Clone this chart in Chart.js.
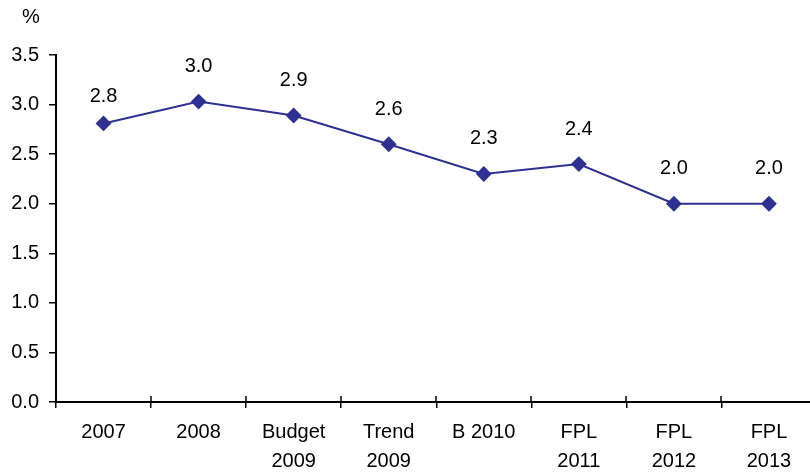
<!DOCTYPE html>
<html>
<head>
  <meta charset="UTF-8">
  <title>Deficit path</title>
  <script src="https://cdn.jsdelivr.net/npm/chart.js"></script>
  <style>
    html, body { margin: 0; padding: 0; background: #fff; overflow: hidden; }
    .wrap { position: relative; width: 825px; height: 472px; }
    .unit { position: absolute; left: 22px; top: 5px; font: 20px "Liberation Sans", Arial, sans-serif; color: #000; }
  </style>
</head>
<body>
  <div class="wrap">
    <div class="unit">%</div>
    <canvas id="chart" width="825" height="472"></canvas>
  </div>

  <script>
    const categories = ["2007", "2008", ["Budget", "2009"], ["Trend", "2009"], "B 2010", ["FPL", "2011"], ["FPL", "2012"], ["FPL", "2013"]];
    const values = [2.81, 3.03, 2.89, 2.6, 2.3, 2.4, 2.0, 2.0];
    const yTicks = [0, 0.5, 1.0, 1.5, 2.0, 2.5, 3.0, 3.5];

    const FONT = '"Liberation Sans", Arial, sans-serif';
    const lineColor = "#2E3192";

    // value labels above each diamond, plus the inner half of the x tick marks
    const extras = {
      id: "extras",
      afterDatasetsDraw(chart) {
        const ctx = chart.ctx;
        const meta = chart.getDatasetMeta(0);
        ctx.save();
        ctx.font = "20px " + FONT;
        ctx.fillStyle = "#000";
        ctx.textAlign = "center";
        ctx.textBaseline = "middle";
        meta.data.forEach((pt, i) => {
          const lift = i === 0 ? 27 : 35;
          ctx.fillText(values[i].toFixed(1), pt.x, pt.y - lift);
        });

        const x = chart.scales.x;
        const y0 = chart.scales.y.getPixelForValue(0);
        ctx.strokeStyle = "#000";
        ctx.lineWidth = 1.5;
        ctx.beginPath();
        for (let i = 1; i < categories.length; i++) {
          const px = Math.round((x.getPixelForValue(i - 1) + x.getPixelForValue(i)) / 2);
          ctx.moveTo(px, y0);
          ctx.lineTo(px, y0 - 6);
        }
        ctx.stroke();
        ctx.restore();
      }
    };

    new Chart(document.getElementById("chart").getContext("2d"), {
      type: "line",
      data: {
        labels: categories,
        datasets: [{
          data: values,
          borderColor: lineColor,
          backgroundColor: lineColor,
          borderWidth: 2,
          pointStyle: "rectRot",
          pointRadius: 6.5,
          pointBackgroundColor: lineColor,
          pointBorderColor: lineColor,
          tension: 0
        }]
      },
      options: {
        responsive: false,
        animation: false,
        layout: { padding: { top: 55, right: 0, left: 0, bottom: 0 } },
        plugins: {
          legend: { display: false },
          tooltip: { enabled: false }
        },
        scales: {
          x: {
            offset: true,
            grid: {
              offset: true,
              drawOnChartArea: false,
              drawTicks: true,
              tickLength: 6,
              color: "#000",
              lineWidth: 1.5
            },
            border: { color: "#000", width: 2 },
            ticks: {
              color: "#000",
              font: { family: FONT, size: 20, lineHeight: 1.45 },
              padding: 10,
              maxRotation: 0,
              autoSkip: false
            },
            afterFit(scale) { scale.height = 70; }
          },
          y: {
            min: 0,
            max: 3.5,
            afterBuildTicks(scale) { scale.ticks = yTicks.map(v => ({ value: v })); },
            grid: {
              drawOnChartArea: false,
              drawTicks: true,
              tickLength: 7,
              color: "#000",
              lineWidth: 1.5
            },
            border: { color: "#000", width: 2 },
            ticks: {
              color: "#000",
              font: { family: FONT, size: 20 },
              padding: 10,
              callback: v => v.toFixed(1)
            },
            afterFit(scale) { scale.width = 56; }
          }
        }
      },
      plugins: [extras]
    });
  </script>
</body>
</html>
